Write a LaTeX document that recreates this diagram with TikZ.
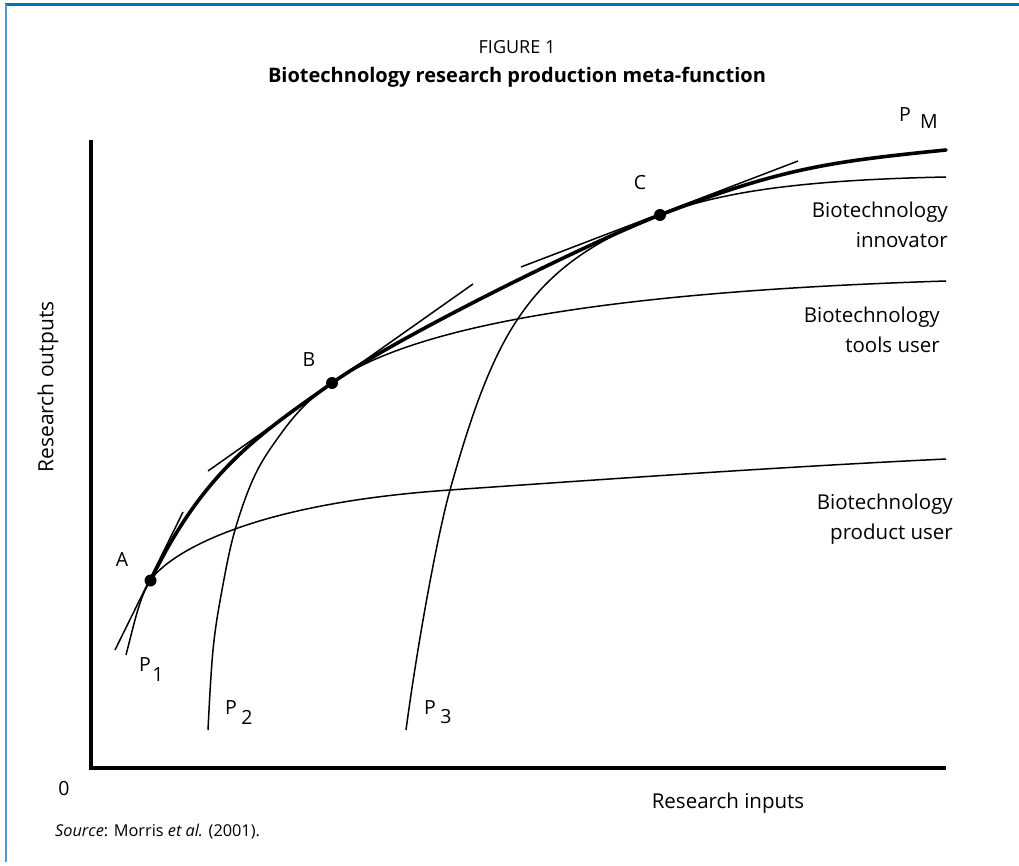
\documentclass[tikz,border=0pt]{standalone}
\usepackage{fontspec}
\setmainfont{Open Sans}
\definecolor{frametop}{RGB}{0,112,184}
\definecolor{frameleft}{RGB}{70,155,210}
\begin{document}
\begin{tikzpicture}[x=1pt,y=-1pt,
  thincurve/.style={line width=1.5pt},
  thickcurve/.style={line width=3.6pt, line cap=round},
  axisline/.style={line width=3.6pt, line join=miter},
  lbl/.style={font=\fontsize{19.5}{22}\selectfont, inner sep=0pt},
  sidelbl/.style={font=\fontsize{20.5}{30}\selectfont, inner sep=0pt, align=right, anchor=north east},
  dotnode/.style={circle, fill=black, minimum size=12pt, inner sep=0pt}]
\useasboundingbox (0,0) rectangle (1019,866);
% frame
\draw[frametop, line width=2.2pt] (5,4.5) -- (1019,4.5);
\draw[frameleft, line width=2.4pt] (6,4) -- (6,862);
% title
\node[lbl, font=\fontsize{18}{20}\selectfont] (fig) at (517,47) {FIGURE 1};
\node[lbl, font=\fontsize{20}{22}\selectfont\bfseries] (ttl) at (517,77) {Biotechnology research production meta-function};
% axes
\coordinate (ytop) at (91,140);
\coordinate (orig) at (91,768);
\coordinate (xend) at (946,768);
\draw[axisline] (ytop) -- (orig) -- (xend);
\node[lbl] (zero) at (64,789) {0};
\node[lbl, font=\fontsize{20.5}{22}\selectfont] (xlab) at (728,803) {Research inputs};
\node[lbl, rotate=90, font=\fontsize{21}{22}\selectfont] (ylab) at (48,387) {Research outputs};
\node[lbl, anchor=west, font=\fontsize{16.3}{18}\selectfont] (src) at (55,832) {\textit{Source}: Morris \textit{et al.} (2001).};
% key points
\coordinate (A) at (150.5,580.5);
\coordinate (B) at (332,383);
\coordinate (C) at (660,215);
% product user (P1)
\draw[thincurve] (126,655) .. controls (135,620) and (140,596) .. (A)
  .. controls (162,562) and (230,505) .. (450,490)
  .. controls (650,476) and (800,466) .. (946,459);
% tools user (P2)
\draw[thincurve] plot[smooth, tension=0.6] coordinates {(208,730) (213,650) (222,590) (235,530) (255,475) (280,435) (305,405) (332,383)}
  .. controls (432,311.8) and (696,289) .. (946,281);
% innovator (P3)
\draw[thincurve] (406,730) .. controls (418,640) and (438,532.7) .. (450,490)
  .. controls (495,330) and (530,264.8) .. (C)
  .. controls (720,192) and (800,180) .. (946,177);
% meta-function PM
\draw[thickcurve] (A) .. controls (205,468) and (262,433) .. (B)
  .. controls (397,336.7) and (595,239.9) .. (C)
  .. controls (780,169) and (826,162) .. (946,150);
% tangents
\coordinate (ta1) at (115,650); \coordinate (ta2) at (183,512);
\coordinate (tb1) at (208,471); \coordinate (tb2) at (473,284);
\coordinate (tc1) at (521,267); \coordinate (tc2) at (798,161);
\draw[thincurve] (ta1) -- (ta2);
\draw[thincurve] (tb1) -- (tb2);
\draw[thincurve] (tc1) -- (tc2);
% dots
\node[dotnode] (dA) at (A) {};
\node[dotnode] (dB) at (B) {};
\node[dotnode] (dC) at (C) {};
% point labels
\node[lbl] (lA) at (122,560) {A};
\node[lbl] (lB) at (309,360) {B};
\node[lbl] (lC) at (640,183) {C};
\node[lbl] (p1) at (145,665) {P};
\node[lbl] (p1s) at (158,675) {1};
\node[lbl] (p2) at (231,708) {P};
\node[lbl] (p2s) at (247,717) {2};
\node[lbl] (p3) at (430,708) {P};
\node[lbl] (p3s) at (446,717) {3};
\node[lbl] (pm) at (905,115) {P};
\node[lbl] (pms) at (929,122) {M};
% side labels
\node[sidelbl] (innov) at (948,202) {Biotechnology\\innovator};
\node[sidelbl] (tools) at (940,307) {Biotechnology\\tools user};
\node[sidelbl] (prod) at (953,494) {Biotechnology\\product user};
\end{tikzpicture}
\end{document}
